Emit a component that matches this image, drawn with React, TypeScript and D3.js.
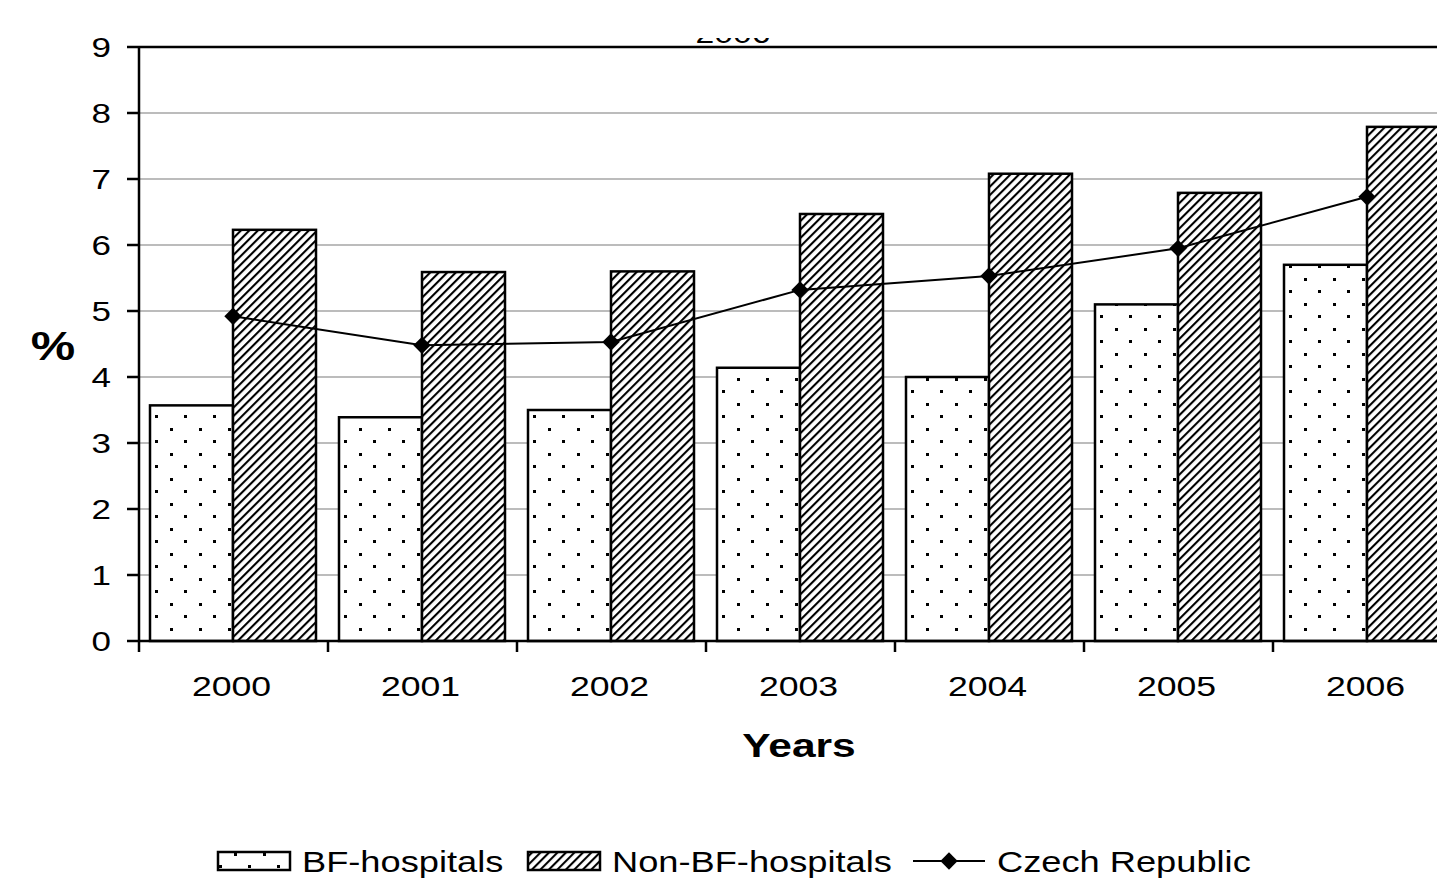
import { useEffect, useRef } from "react";
import * as d3 from "d3";

const years = ["2000", "2001", "2002", "2003", "2004", "2005", "2006"];
const bfHospitals = [3.57, 3.39, 3.5, 4.14, 4.0, 5.1, 5.7];
const nonBfHospitals = [6.23, 5.59, 5.6, 6.47, 7.08, 6.79, 7.79];
const czechRepublic = [4.92, 4.48, 4.53, 5.32, 5.53, 5.95, 6.73];
const yTicks = [0, 1, 2, 3, 4, 5, 6, 7, 8, 9];
const seriesNames = ["BF-hospitals", "Non-BF-hospitals", "Czech Republic"];

const FONT = "'Liberation Sans', Arial, sans-serif";
const SX = 1.25; // the source image is stretched sideways

const App = () => {
  const ref = useRef<SVGSVGElement>(null);
  const width = 1437;
  const height = 882;
  const margin = { top: 47, left: 139, bottom: 241 };
  const plotRight = 1462; // plot runs past the crop on the right

  useEffect(() => {
    const svg = d3.select(ref.current);
    svg.selectAll("*").remove();

    const x = d3.scaleBand().domain(years).range([margin.left, plotRight]);
    const xInner = d3.scaleBand().domain(["bf", "non"]).range([11, 177]);
    const y = d3
      .scaleLinear()
      .domain([0, 9])
      .range([height - margin.bottom, margin.top]);

    const defs = svg.append("defs");
    const dots = defs
      .append("pattern")
      .attr("id", "dots")
      .attr("patternUnits", "userSpaceOnUse")
      .attr("width", 29)
      .attr("height", 25);
    dots.append("rect").attr("width", 29).attr("height", 25).attr("fill", "white");
    dots.append("rect").attr("x", 2).attr("y", 3).attr("width", 3).attr("height", 3).attr("fill", "black");
    dots.append("rect").attr("x", 16).attr("y", 15).attr("width", 3).attr("height", 3).attr("fill", "black");

    const hatch = defs
      .append("pattern")
      .attr("id", "hatch")
      .attr("patternUnits", "userSpaceOnUse")
      .attr("width", 6)
      .attr("height", 6)
      .attr("patternTransform", "rotate(45)");
    hatch.append("rect").attr("width", 6).attr("height", 6).attr("fill", "white");
    hatch
      .append("line")
      .attr("x1", 1)
      .attr("y1", 0)
      .attr("x2", 1)
      .attr("y2", 6)
      .attr("stroke", "black")
      .attr("stroke-width", 2.2);

    const clip = defs.append("clipPath").attr("id", "titleclip");
    clip.append("rect").attr("x", 0).attr("y", 38).attr("width", width).attr("height", 8);

    const stretched = (sel: any, tx: number, ty: number) =>
      sel.attr("transform", `translate(${tx},${ty}) scale(${SX},1)`);

    // title, mostly cut off by the crop
    svg
      .append("g")
      .attr("clip-path", "url(#titleclip)")
      .append("text")
      .attr("font-family", FONT)
      .attr("font-size", 27)
      .attr("text-anchor", "middle")
      .call(stretched, 733, 43)
      .text("2006");

    // gridlines
    svg
      .append("g")
      .selectAll("line")
      .data(yTicks.filter((t) => t > 0 && t < 9))
      .join("line")
      .attr("x1", margin.left)
      .attr("x2", plotRight)
      .attr("y1", (d) => y(d))
      .attr("y2", (d) => y(d))
      .attr("stroke", "#a6a6a6")
      .attr("stroke-width", 1.5);

    // top border of the plot area
    svg
      .append("line")
      .attr("x1", margin.left)
      .attr("x2", plotRight)
      .attr("y1", y(9))
      .attr("y2", y(9))
      .attr("stroke", "black")
      .attr("stroke-width", 2.5);

    // bars
    const groups = svg
      .append("g")
      .selectAll("g")
      .data(years)
      .join("g")
      .attr("transform", (d) => `translate(${x(d)},0)`);

    groups
      .append("rect")
      .attr("x", xInner("bf")!)
      .attr("width", xInner.bandwidth())
      .attr("y", (_, i) => y(bfHospitals[i]))
      .attr("height", (_, i) => y(0) - y(bfHospitals[i]))
      .attr("fill", "url(#dots)")
      .attr("stroke", "black")
      .attr("stroke-width", 2.5);

    groups
      .append("rect")
      .attr("x", xInner("non")!)
      .attr("width", xInner.bandwidth())
      .attr("y", (_, i) => y(nonBfHospitals[i]))
      .attr("height", (_, i) => y(0) - y(nonBfHospitals[i]))
      .attr("fill", "url(#hatch)")
      .attr("stroke", "black")
      .attr("stroke-width", 2.5);

    // Czech Republic line
    const lineX = (i: number) => x(years[i])! + xInner("non")!;
    const line = d3
      .line<number>()
      .x((_, i) => lineX(i))
      .y((d) => y(d));
    svg
      .append("path")
      .datum(czechRepublic)
      .attr("d", line)
      .attr("fill", "none")
      .attr("stroke", "black")
      .attr("stroke-width", 2);

    const diamond = d3.symbol(d3.symbolSquare, 150);
    svg
      .append("g")
      .selectAll("path")
      .data(czechRepublic)
      .join("path")
      .attr("d", diamond)
      .attr("transform", (d, i) => `translate(${lineX(i)},${y(d)}) rotate(45)`)
      .attr("fill", "black");

    // y axis
    svg
      .append("line")
      .attr("x1", margin.left)
      .attr("x2", margin.left)
      .attr("y1", y(9))
      .attr("y2", y(0))
      .attr("stroke", "black")
      .attr("stroke-width", 2.5);
    svg
      .append("g")
      .selectAll("line")
      .data(yTicks)
      .join("line")
      .attr("x1", margin.left - 12)
      .attr("x2", margin.left)
      .attr("y1", (d) => y(d))
      .attr("y2", (d) => y(d))
      .attr("stroke", "black")
      .attr("stroke-width", 2.5);
    svg
      .append("g")
      .selectAll("text")
      .data(yTicks)
      .join("text")
      .attr("font-family", FONT)
      .attr("font-size", 28)
      .attr("text-anchor", "end")
      .attr("dy", "0.36em")
      .each(function (d) {
        stretched(d3.select(this), 111, y(d));
      })
      .text((d) => d);

    // x axis
    svg
      .append("line")
      .attr("x1", margin.left)
      .attr("x2", plotRight)
      .attr("y1", y(0))
      .attr("y2", y(0))
      .attr("stroke", "black")
      .attr("stroke-width", 2.5);
    svg
      .append("g")
      .selectAll("line")
      .data(years)
      .join("line")
      .attr("x1", (d) => x(d)!)
      .attr("x2", (d) => x(d)!)
      .attr("y1", y(0))
      .attr("y2", y(0) + 11)
      .attr("stroke", "black")
      .attr("stroke-width", 2.5);
    svg
      .append("g")
      .selectAll("text")
      .data(years)
      .join("text")
      .attr("font-family", FONT)
      .attr("font-size", 28.5)
      .attr("text-anchor", "middle")
      .each(function (d) {
        stretched(d3.select(this), x(d)! + x.bandwidth() / 2 - 2, 696);
      })
      .text((d) => d);

    // axis titles
    svg
      .append("text")
      .attr("font-family", FONT)
      .attr("font-size", 34)
      .attr("font-weight", "bold")
      .attr("text-anchor", "middle")
      .call(stretched, 799, 757)
      .text("Years");
    svg
      .append("text")
      .attr("font-family", FONT)
      .attr("font-size", 40)
      .attr("font-weight", "bold")
      .attr("text-anchor", "middle")
      .call(stretched, 53, 360)
      .text("%");

    // legend
    const legend = svg.append("g").attr("font-family", FONT).attr("font-size", 29);
    const items = [
      { name: seriesNames[0], kind: "bf", x: 218 },
      { name: seriesNames[1], kind: "non", x: 528 },
      { name: seriesNames[2], kind: "line", x: 913 },
    ];
    items.forEach((it) => {
      if (it.kind === "line") {
        legend
          .append("line")
          .attr("x1", it.x)
          .attr("x2", it.x + 72)
          .attr("y1", 861)
          .attr("y2", 861)
          .attr("stroke", "black")
          .attr("stroke-width", 2);
        legend
          .append("path")
          .attr("d", diamond)
          .attr("transform", `translate(${it.x + 36},861) rotate(45)`)
          .attr("fill", "black");
      } else {
        legend
          .append("rect")
          .attr("x", it.x)
          .attr("y", 852)
          .attr("width", 72)
          .attr("height", 18)
          .attr("fill", it.kind === "bf" ? "url(#dots)" : "url(#hatch)")
          .attr("stroke", "black")
          .attr("stroke-width", 2.5);
      }
      legend
        .append("text")
        .call(stretched, it.x + 84, 872)
        .text(it.name);
    });
  }, []);

  return (
    <svg
      ref={ref}
      width={width}
      height={height}
      style={{ position: "absolute", left: 0, top: 0, background: "white", overflow: "hidden" }}
    />
  );
};

export default App;
